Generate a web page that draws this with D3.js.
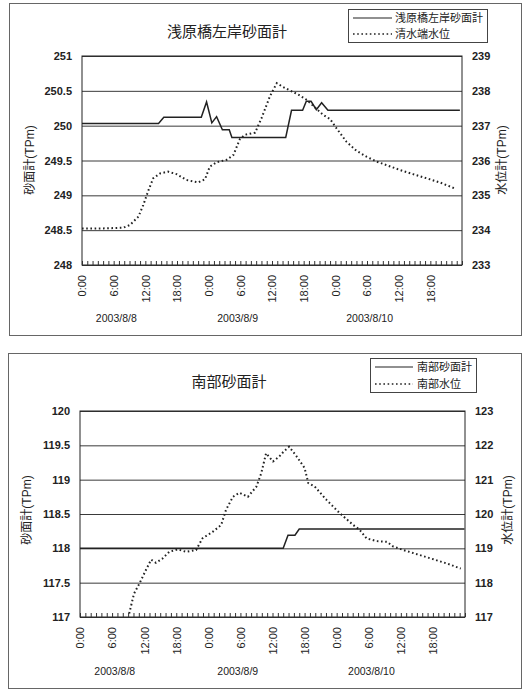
<!DOCTYPE html>
<html><head><meta charset="utf-8">
<script src="https://cdn.jsdelivr.net/npm/d3@7"></script>
<style>
body{margin:0;background:#fff;}
svg{display:block;}
text{font-family:"Liberation Sans","Noto Sans CJK JP",sans-serif;}
</style></head>
<body>
<svg id="c" width="528" height="690"></svg>
<script>
// ---------- shared ----------
const timeTickHours = [0,6,12,18,24,30,36,42,48,54,60,66];
const timeTickLabels = ["0:00","6:00","12:00","18:00","0:00","6:00","12:00","18:00","0:00","6:00","12:00","18:00"];
const dateLabels = ["2003/8/8","2003/8/9","2003/8/10"];
const dateLabelHours = [6.5,29.5,54.5];

// ---------- chart 1 : 浅原橋左岸 ----------
const c1Title = "浅原橋左岸砂面計";
const c1SeriesNames = ["浅原橋左岸砂面計","清水端水位"];
const c1LeftTicks = [248,248.5,249,249.5,250,250.5,251];
const c1RightTicks = [233,234,235,236,237,238,239];
const c1SandHours = [0,14.5,15.5,22.6,23.6,24.6,25.5,26.6,27.9,28.4,38.6,39.7,41.8,42.5,43.4,44.4,45.4,46.6,71.6];
const c1SandValues = [250.03,250.03,250.12,250.12,250.34,250.04,250.13,249.94,249.94,249.83,249.83,250.22,250.22,250.35,250.35,250.23,250.33,250.22,250.22];
const c1WaterHours = [0,4,7.8,9.1,10.7,11.6,12.6,13.5,14.8,16.3,17.9,19.8,22,23.3,24.2,25.5,27.4,28.7,29.9,30.9,32.8,34,35.6,36.9,38.1,39.4,41,42.6,44.1,45.7,47,48.2,50.1,52,53.9,55.8,58,60.2,62.7,65.3,67.8,70.6];
const c1WaterValues = [234.05,234.05,234.07,234.15,234.39,234.72,235.15,235.49,235.63,235.68,235.61,235.44,235.37,235.46,235.82,235.95,236.02,236.16,236.61,236.74,236.8,237.21,237.84,238.22,238.11,238.01,237.89,237.74,237.53,237.31,237.19,236.93,236.54,236.28,236.11,235.97,235.85,235.73,235.61,235.49,235.37,235.2];

// ---------- chart 2 : 南部 ----------
const c2Title = "南部砂面計";
const c2SeriesNames = ["南部砂面計","南部水位"];
const c2LeftTicks = [117,117.5,118,118.5,119,119.5,120];
const c2RightTicks = [117,118,119,120,121,122,123];
const c2SandHours = [0,38,38.9,40.2,41,71.9];
const c2SandValues = [118.0,118.0,118.19,118.19,118.28,118.28];
const c2WaterHours = [9.2,10.1,11.1,12.3,13.3,14.2,15.4,16.7,18.3,19.8,21.7,22.9,24.8,26.4,27.3,28.6,29.8,31.4,33,33.9,34.8,36.1,37.3,38.1,39.1,40.5,42,42.7,43.9,46.1,48.6,51.1,52.3,53.6,55.5,57.4,58.6,60.5,63,66.1,68.6,71.2];
const c2WaterValues = [117.1,117.68,117.97,118.36,118.67,118.58,118.7,118.9,118.97,118.9,118.95,119.29,119.48,119.68,120.12,120.5,120.62,120.5,120.8,121.19,121.77,121.53,121.68,121.82,121.96,121.68,121.34,120.9,120.8,120.41,120.02,119.68,119.54,119.29,119.21,119.19,119.05,118.95,118.83,118.68,118.56,118.41];

const svg = d3.select("#c");

function drawChart(o){
  const g = svg.append("g");
  // outer frame
  g.append("rect").attr("x",o.frame[0]+0.5).attr("y",o.frame[1]+0.5)
    .attr("width",o.frame[2]-o.frame[0]).attr("height",o.frame[3]-o.frame[1])
    .attr("fill","none").attr("stroke","#666").attr("stroke-width",1);

  const x = d3.scaleLinear().domain([0,72]).range([o.plot.l,o.plot.r]);
  const yL = d3.scaleLinear().domain(d3.extent(o.leftTicks)).range([o.plot.b,o.plot.t]);
  const yR = d3.scaleLinear().domain(d3.extent(o.rightTicks)).range([o.plot.b,o.plot.t]);
  const W = o.plot.r-o.plot.l;

  // gridlines
  g.append("g").attr("transform",`translate(${o.plot.l},0)`)
    .call(d3.axisLeft(yL).tickValues(o.leftTicks).tickSize(-W).tickFormat(""))
    .call(s=>s.select(".domain").remove())
    .call(s=>s.selectAll("line").attr("stroke","#3a3a3a").attr("stroke-width",1));

  // plot border
  g.append("rect").attr("x",o.plot.l).attr("y",o.plot.t).attr("width",W).attr("height",o.plot.b-o.plot.t)
    .attr("fill","none").attr("stroke","#222").attr("stroke-width",1);

  // left axis labels
  g.append("g").attr("transform",`translate(${o.plot.l},0)`)
    .call(d3.axisLeft(yL).tickValues(o.leftTicks).tickSize(0).tickPadding(10).tickFormat(d3.format("")))
    .call(s=>s.select(".domain").remove())
    .call(s=>s.selectAll("text").attr("font-size",11).attr("fill","#222").attr("font-weight","bold")
      .attr("font-family","Liberation Sans, Arial, sans-serif"));
  // right axis labels
  g.append("g").attr("transform",`translate(${o.plot.r},0)`)
    .call(d3.axisRight(yR).tickValues(o.rightTicks).tickSize(0).tickPadding(10).tickFormat(d3.format("")))
    .call(s=>s.select(".domain").remove())
    .call(s=>s.selectAll("text").attr("font-size",11).attr("fill","#222").attr("font-weight","bold")
      .attr("font-family","Liberation Sans, Arial, sans-serif"));

  // hourly minor ticks (inside)
  g.append("g").attr("transform",`translate(0,${o.plot.b})`)
    .call(d3.axisBottom(x).tickValues(d3.range(0,73,1)).tickSize(-4).tickFormat(""))
    .call(s=>s.select(".domain").remove())
    .call(s=>s.selectAll("line").attr("stroke","#333"));

  // time labels
  g.append("g").attr("transform",`translate(0,${o.plot.b})`)
    .call(d3.axisBottom(x).tickValues(timeTickHours).tickSize(0).tickFormat((d,i)=>timeTickLabels[i]))
    .call(s=>s.select(".domain").remove())
    .call(s=>s.selectAll("text")
      .attr("transform","rotate(-90)")
      .attr("text-anchor","end")
      .attr("x",-o.labelGap).attr("y",0).attr("dy","0.35em")
      .attr("font-size",11).attr("fill","#222").attr("font-family","Liberation Sans, Arial, sans-serif"));

  // date labels
  g.selectAll(".dl").data(dateLabels).enter().append("text")
    .attr("x",(d,i)=>x(dateLabelHours[i])).attr("y",o.dateY)
    .attr("text-anchor","middle").attr("font-size",10.5).attr("fill","#222")
    .attr("font-family","Liberation Sans, Arial, sans-serif")
    .text(d=>d);

  // series
  const sandData = o.sandHours.map((h,i)=>[h,o.sandValues[i]]);
  const waterData = o.waterHours.map((h,i)=>[h,o.waterValues[i]]);
  g.append("path").datum(waterData)
    .attr("d",d3.line().x(d=>x(d[0])).y(d=>yR(d[1])))
    .attr("fill","none").attr("stroke","#222").attr("stroke-width",2).attr("stroke-dasharray","1.6,2.6");
  g.append("path").datum(sandData)
    .attr("d",d3.line().x(d=>x(d[0])).y(d=>yL(d[1])))
    .attr("fill","none").attr("stroke","#222").attr("stroke-width",1.5);

  // title
  g.append("text").attr("x",o.titleXY[0]).attr("y",o.titleXY[1]).attr("text-anchor","middle")
    .attr("font-size",15).attr("fill","#222").attr("font-family","Noto Sans CJK JP, sans-serif")
    .text(o.title);

  // axis titles
  g.append("text").attr("transform",`translate(${o.leftTitleXY[0]},${o.leftTitleXY[1]}) rotate(-90)`)
    .attr("text-anchor","middle").attr("dy","0.35em").attr("font-size",12).attr("fill","#222")
    .attr("font-family","Noto Sans CJK JP, sans-serif").text("砂面計(TPm)");
  g.append("text").attr("transform",`translate(${o.rightTitleXY[0]},${o.rightTitleXY[1]}) rotate(-90)`)
    .attr("text-anchor","middle").attr("dy","0.35em").attr("font-size",12).attr("fill","#222")
    .attr("font-family","Noto Sans CJK JP, sans-serif").text("水位計(TPm)");

  // legend
  const L = o.legend;
  g.append("rect").attr("x",L.x+0.5).attr("y",L.y+0.5).attr("width",L.w).attr("height",L.h)
    .attr("fill","#fff").attr("stroke","#444");
  const rows = [{dash:null},{dash:"1.6,2.6"}];
  rows.forEach((r,i)=>{
    const yy = L.y + L.row0 + i*L.rowStep;
    g.append("line").attr("x1",L.x+L.lineX0).attr("x2",L.x+L.lineX1).attr("y1",yy).attr("y2",yy)
      .attr("stroke","#222").attr("stroke-width",r.dash?1.5:1.2).attr("stroke-dasharray",r.dash);
    g.append("text").attr("x",L.x+L.textX).attr("y",yy).attr("dy","0.35em")
      .attr("font-size",11).attr("fill","#222").attr("font-family","Noto Sans CJK JP, sans-serif")
      .text(o.seriesNames[i]);
  });
}

drawChart({
  frame:[9,3,521,335],
  plot:{l:82,r:462,t:56,b:265},
  leftTicks:c1LeftTicks, rightTicks:c1RightTicks,
  sandHours:c1SandHours, sandValues:c1SandValues,
  waterHours:c1WaterHours, waterValues:c1WaterValues,
  title:c1Title, seriesNames:c1SeriesNames,
  titleXY:[227,37], leftTitleXY:[30,160], rightTitleXY:[502,160],
  labelGap:10, dateY:322,
  legend:{x:348,y:9,w:139,h:33,row0:9,rowStep:16,lineX0:5,lineX1:44,textX:47}
});

drawChart({
  frame:[8,353,521,688],
  plot:{l:80,r:465,t:411,b:617},
  leftTicks:c2LeftTicks, rightTicks:c2RightTicks,
  sandHours:c2SandHours, sandValues:c2SandValues,
  waterHours:c2WaterHours, waterValues:c2WaterValues,
  title:c2Title, seriesNames:c2SeriesNames,
  titleXY:[229,387], leftTitleXY:[27,510], rightTitleXY:[508,510],
  labelGap:10, dateY:675,
  legend:{x:370,y:358,w:106,h:34,row0:9,rowStep:17,lineX0:5,lineX1:43,textX:47}
});
</script>
</body></html>
